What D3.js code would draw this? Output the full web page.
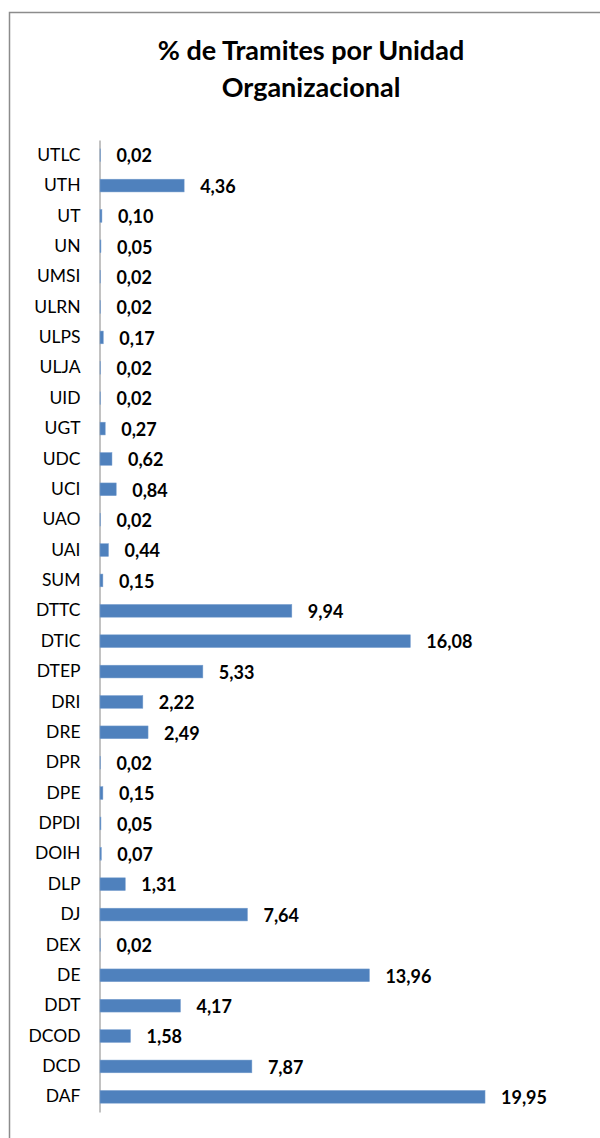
<!DOCTYPE html>
<html>
<head>
<meta charset="utf-8">
<script src="https://cdn.jsdelivr.net/npm/d3@7"></script>
<style>
  body { margin: 0; background: #fff; }
  .axis text { font-family: Lato, 'Liberation Sans', sans-serif; font-size: 17.5px; fill: #000; }
  .axis path { stroke: #868686; }
</style>
</head>
<body>
<div id="chart"></div>
<script>
const categories = ['UTLC', 'UTH', 'UT', 'UN', 'UMSI', 'ULRN', 'ULPS', 'ULJA', 'UID', 'UGT',
  'UDC', 'UCI', 'UAO', 'UAI', 'SUM', 'DTTC', 'DTIC', 'DTEP', 'DRI', 'DRE', 'DPR', 'DPE',
  'DPDI', 'DOIH', 'DLP', 'DJ', 'DEX', 'DE', 'DDT', 'DCOD', 'DCD', 'DAF']
const values = [0.02, 4.36, 0.10, 0.05, 0.02, 0.02, 0.17, 0.02, 0.02, 0.27,
  0.62, 0.84, 0.02, 0.44, 0.15, 9.94, 16.08, 5.33, 2.22, 2.49, 0.02, 0.15,
  0.05, 0.07, 1.31, 7.64, 0.02, 13.96, 4.17, 1.58, 7.87, 19.95]
const titleLines = ['% de Tramites por Unidad', 'Organizacional']

const data = categories.map((c, i) => ({ name: c, value: values[i] }))
const width = 600
const height = 1138

const svg = d3.select('#chart').append('svg')
  .attr('width', width)
  .attr('height', height)

// marco del grafico
svg.append('rect')
  .attr('x', 9.5).attr('y', 12.5)
  .attr('width', 700).attr('height', 1300)
  .attr('fill', 'none')
  .attr('stroke', '#8c8c8c')
  .attr('stroke-width', 1.5)

// titulo
svg.append('g').selectAll('text')
  .data(titleLines)
  .enter().append('text')
  .attr('x', 311)
  .attr('y', (d, i) => 60 + i * 37)
  .attr('text-anchor', 'middle')
  .style('font-family', "Lato, 'Liberation Sans', sans-serif")
  .style('font-weight', 'bold')
  .style('font-size', '27px')
  .text(d => d)

const x = d3.scaleLinear().domain([0, 20]).range([100, 486])
const y = d3.scaleBand().domain(categories).range([140, 1112]).paddingInner(0.58).paddingOuter(0.29)

svg.append('g')
  .attr('class', 'axis')
  .attr('transform', 'translate(99.5,0)')
  .call(d3.axisLeft(y).tickSize(0).tickPadding(19))

svg.append('g').selectAll('.bar')
  .data(data)
  .enter().append('rect')
  .attr('class', 'bar')
  .attr('x', x(0))
  .attr('y', d => y(d.name))
  .attr('width', d => x(d.value) - x(0))
  .attr('height', y.bandwidth())
  .attr('fill', '#4f81bd')
  .attr('stroke', '#7aa0cf')
  .attr('stroke-width', 0.5)

const fmt = d3.format('.2f')
svg.append('g').selectAll('.lbl')
  .data(data)
  .enter().append('text')
  .attr('class', 'lbl')
  .attr('x', d => x(d.value) + 16)
  .attr('y', d => y(d.name) + y.bandwidth() / 2)
  .attr('dy', '0.4em')
  .style('font-family', "Lato, 'Liberation Sans', sans-serif")
  .style('font-weight', 'bold')
  .style('font-size', '18px')
  .text(d => fmt(d.value).replace('.', ','))
</script>
</body>
</html>
